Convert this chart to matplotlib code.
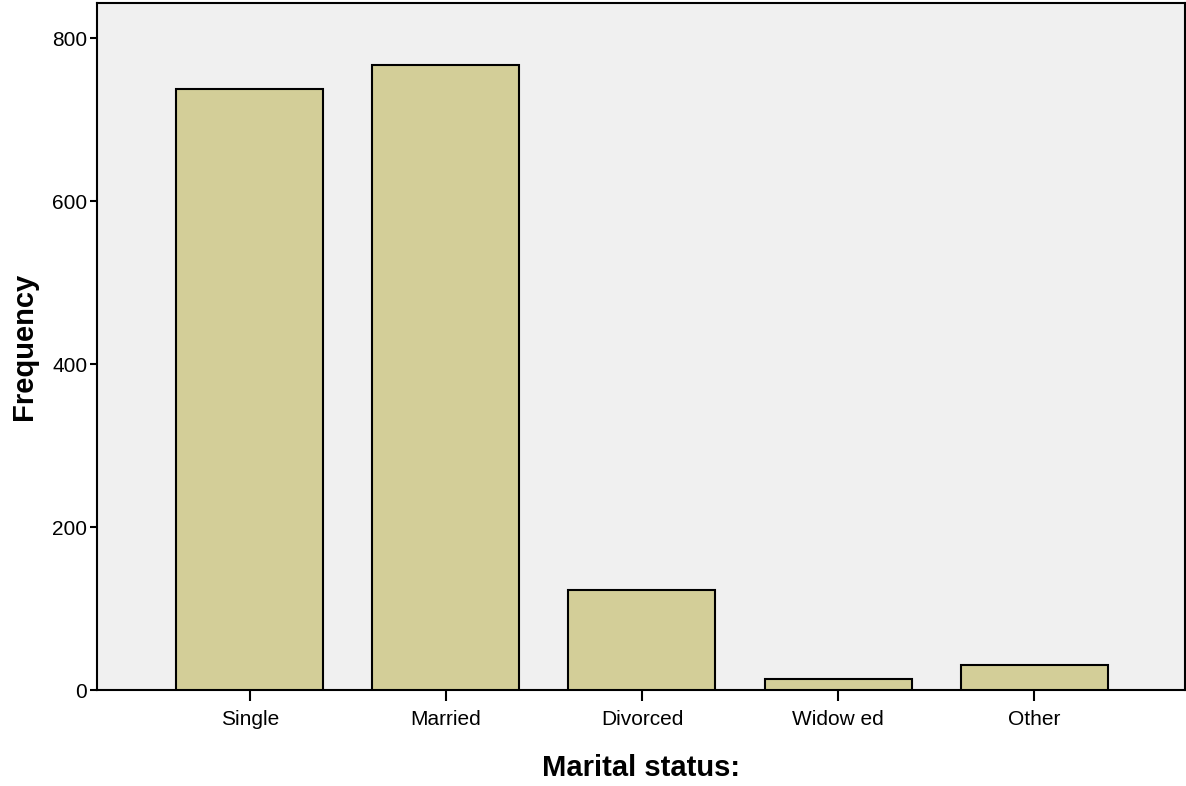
import matplotlib
matplotlib.use("Agg")
import matplotlib.pyplot as plt

categories = ["Single", "Married", "Divorced", "Widow ed", "Other"]
frequencies = [738, 767, 123, 13, 31]
y_ticks = [0, 200, 400, 600, 800]

plt.rcParams['font.family'] = ['Liberation Sans', 'DejaVu Sans']

fig = plt.figure(figsize=(11.86, 7.86), dpi=100)
ax = fig.add_axes([97/1186, 96/786, 1088/1186, 687/786])
ax.set_facecolor('#F0F0F0')

x = list(range(len(categories)))
ax.bar(x, frequencies, width=0.75, color='#D3CE98', edgecolor='black', linewidth=1.5, zorder=3)

ax.set_xlim(-0.78, 4.77)
ax.set_ylim(0, 843)
ax.set_xticks(x)
ax.set_xticklabels(categories, fontsize=15)
ax.set_yticks(y_ticks)
ax.set_yticklabels([str(v) for v in y_ticks], fontsize=15)
ax.tick_params(axis='x', direction='out', length=8, width=1.5, pad=6.5)
ax.tick_params(axis='y', direction='out', length=5, width=1.5, pad=2)
for s in ax.spines.values():
    s.set_linewidth(1.5)
    s.set_color('black')

ax.set_xlabel("Marital status:", fontsize=21, fontweight='bold', labelpad=18)
ax.set_ylabel("Frequency", fontsize=21, fontweight='bold', labelpad=10)

fig.savefig("out.png", dpi=100)
